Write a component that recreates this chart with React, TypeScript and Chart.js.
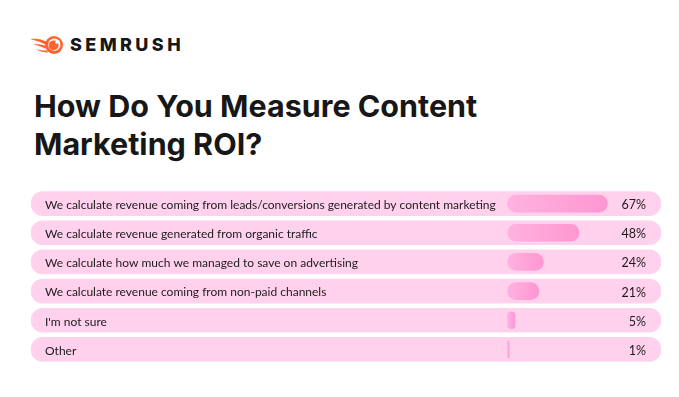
import React, { useEffect, useRef } from "react";
import { Chart, registerables } from "chart.js";

Chart.register(...registerables);

const categories = [
  "We calculate revenue coming from leads/conversions generated by content marketing",
  "We calculate revenue generated from organic traffic",
  "We calculate how much we managed to save on advertising",
  "We calculate revenue coming from non-paid channels",
  "I'm not sure",
  "Other",
];
const values = [67, 48, 24, 21, 5, 1];
const percentLabels = ["67%", "48%", "24%", "21%", "5%", "1%"];
const rowFill = [1, 1, 1, 1, 1, 1];

const TEXT_FONT = "Inter, 'Noto Sans', sans-serif";
const LABEL_FONT = "Lato, 'Noto Sans', sans-serif";

const labelPlugin = {
  id: "rowLabels",
  afterDatasetsDraw(chart: any) {
    const { ctx, chartArea } = chart;
    const y = chart.scales.y;
    ctx.save();
    ctx.font = `400 12px ${LABEL_FONT}`;
    ctx.fillStyle = "#1c1c1c";
    ctx.textBaseline = "middle";
    categories.forEach((c, i) => {
      const py = y.getPixelForValue(i);
      ctx.textAlign = "left";
      ctx.fillText(c, chartArea.left + 14, py + 1.5);
      ctx.font = `400 12.5px ${LABEL_FONT}`;
      ctx.textAlign = "right";
      ctx.fillText(percentLabels[i], chartArea.right - 15, py + 1.5);
      ctx.font = `400 12px ${LABEL_FONT}`;
    });
    ctx.restore();
  },
};

function BarChart() {
  const ref = useRef<HTMLCanvasElement | null>(null);
  useEffect(() => {
    if (!ref.current) return;
    const chart = new Chart(ref.current, {
      type: "bar",
      data: {
        labels: categories,
        datasets: [
          {
            label: "Share",
            data: values,
            xAxisID: "x",
            order: 0,
            grouped: false,
            barThickness: 17,
            borderRadius: 9,
            borderSkipped: false,
            backgroundColor: (c: any) => {
              const ch = c.chart;
              const sx = ch.scales.x;
              if (!sx || c.raw == null) return "#ffa6da";
              const x0 = sx.getPixelForValue(0);
              const x1 = sx.getPixelForValue(c.raw);
              if (!(x1 > x0 + 1)) return "#ffaede";
              const g = ch.ctx.createLinearGradient(x0, 0, x1, 0);
              g.addColorStop(0, "#ffb2df");
              g.addColorStop(1, "#ff96d2");
              return g;
            },
          },
          {
            label: "Row",
            data: rowFill,
            xAxisID: "xBg",
            order: 1,
            grouped: false,
            barThickness: 24,
            borderRadius: 12,
            borderSkipped: false,
            backgroundColor: "#ffd1ed",
          },
        ],
      },
      options: {
        indexAxis: "y",
        animation: false,
        responsive: false,
        maintainAspectRatio: false,
        layout: { padding: 0 },
        plugins: {
          legend: { display: false },
          tooltip: { enabled: false },
        },
        scales: {
          x: { type: "linear", min: -320, max: 103, display: false },
          xBg: { type: "linear", min: 0, max: 1, display: false },
          y: { type: "category", display: false },
        },
      },
      plugins: [labelPlugin],
    } as any);
    return () => chart.destroy();
  }, []);
  return <canvas ref={ref} width={630} height={175} style={{ width: 630, height: 175, display: "block" }} />;
}

function Logo() {
  return (
    <div style={{ position: "absolute", left: 28, top: 33, height: 24, display: "flex", alignItems: "center" }}>
      <svg width="38" height="24" viewBox="0 0 38 24">
        <path d="M2 6 C8 5, 14 6, 19 9 L18 12 C13 9, 8 7.5, 2 6 Z" fill="#ff642d" />
        <path d="M5 11.5 C10 11, 14 11.5, 18 13 L18 15.5 C14 14, 10 12.5, 5 11.5 Z" fill="#ff642d" />
        <path d="M8 16.5 C12 17, 15 17.5, 19 17.5 L20 19.5 C16 19.5, 12 18.5, 8 16.5 Z" fill="#ff642d" />
        <circle cx="26" cy="12" r="9" fill="#ff642d" />
        <circle cx="26.3" cy="11.7" r="6.2" fill="#ffffff" />
        <circle cx="25.6" cy="12.4" r="4.9" fill="#ff642d" />
        <circle cx="28.6" cy="9.4" r="1.3" fill="#ffffff" />
      </svg>
      <div
        style={{
          marginLeft: 4,
          fontFamily: TEXT_FONT,
          fontWeight: 800,
          fontSize: 18,
          letterSpacing: 3.4,
          color: "#171717",
          lineHeight: "24px",
        }}
      >
        SEMRUSH
      </div>
    </div>
  );
}

export default function App() {
  return (
    <div
      style={{
        position: "absolute",
        left: 0,
        top: 0,
        width: 679,
        height: 397,
        background: "#ffffff",
        overflow: "hidden",
      }}
    >
      <Logo />
      <div
        style={{
          position: "absolute",
          left: 34,
          top: 87,
          fontFamily: TEXT_FONT,
          fontWeight: 700,
          fontSize: 30.5,
          lineHeight: "37.5px",
          color: "#171717",
          letterSpacing: 0,
        }}
      >
        How Do You Measure Content
        <br />
        Marketing ROI?
      </div>
      <div style={{ position: "absolute", left: 31, top: 189 }}>
        <BarChart />
      </div>
    </div>
  );
}
